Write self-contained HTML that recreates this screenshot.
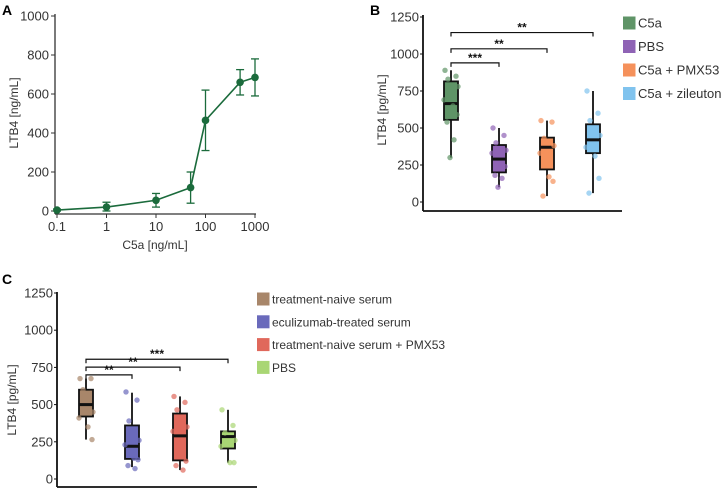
<!DOCTYPE html>
<html><head><meta charset="utf-8"><style>
body{margin:0;background:#fff;width:722px;height:489px;overflow:hidden}
svg{font-family:"Liberation Sans",Arial,sans-serif}
</style></head><body>
<svg id="s" width="722" height="489" xmlns="http://www.w3.org/2000/svg"></svg>
<script>
// Panel A data
const aDoses=[0.1,1,10,50,100,500,1000];
const aMeans=[5,20,55,120,465,660,685];
const aErr=[5,25,35,80,155,65,95];
const aXTicks=["0.1","1","10","100","1000"];
const aYTicks=[0,200,400,600,800,1000];
// Panel B data
const bGroups=["C5a","PBS","C5a + PMX53","C5a + zileuton"];
const bQ1=[555,200,220,330];
const bMed=[665,290,370,420];
const bQ3=[815,385,435,525];
const bLo=[300,100,40,60];
const bHi=[890,500,550,750];
const bPts=[[890,850,830,780,690,650,590,540,420,300],[500,450,400,350,330,250,240,180,160,100],[550,540,430,380,330,170,140,40],[750,600,550,450,370,310,160,60]];
const bYTicks=[0,250,500,750,1000,1250];
const bSig=[["***",0,1,940],["**",0,2,1035],["**",0,3,1145]];
// Panel C data
const cGroups=["treatment-naive serum","eculizumab-treated serum","treatment-naive serum + PMX53","PBS"];
const cQ1=[420,135,125,205];
const cMed=[500,220,290,285];
const cQ3=[600,360,440,320];
const cLo=[265,80,60,110];
const cHi=[675,580,555,465];
const cPts=[[675,675,600,450,410,350,265],[585,530,390,260,230,140,130,90,70],[555,515,465,350,320,250,120,90,60],[465,360,310,260,220,110,110]];
const cYTicks=[0,250,500,750,1000,1250];
const cSig=[["**",0,1,700],["**",0,2,752],["***",0,3,805]];

const svg=document.getElementById('s');const NS="http://www.w3.org/2000/svg";
function mk(tag,attrs,parent,text){const e=document.createElementNS(NS,tag);for(const k in attrs)e.setAttribute(k,attrs[k]);if(text!==undefined)e.textContent=text;(parent||svg).appendChild(e);return e;}
const jit=[-6,5,-3,7,-7,2,6,-4,3,-1];

// ---- Panel A
mk('text',{x:2,y:15,'font-size':14,'font-weight':'bold',},svg,'A');
const ax=v=>57+(Math.log10(v)+1)*49.5, ay=v=>211-v*0.195;
const gA=mk('g',{});
mk('line',{x1:55,y1:14,x2:55,y2:214,stroke:'#333','stroke-width':1.3},gA);
mk('line',{x1:55,y1:214,x2:256,y2:214,stroke:'#333','stroke-width':1.3},gA);
aYTicks.forEach(t=>{mk('line',{x1:51,x2:55,y1:ay(t),y2:ay(t),stroke:'#333'},gA);const e=mk('text',{x:49,y:ay(t)+4.5,'font-size':13,'text-anchor':'end',fill:'#333'},gA,t);});
aXTicks.forEach(t=>{const x=ax(parseFloat(t));mk('line',{x1:x,x2:x,y1:214,y2:218,stroke:'#333'},gA);const e=mk('text',{x:x,y:231,'font-size':13,'text-anchor':'middle',fill:'#333'},gA,t);});
mk('text',{x:155,y:249,'font-size':12,'text-anchor':'middle',fill:'#333',},svg,'C5a [ng/mL]');
mk('text',{x:18,y:113,'font-size':12,'text-anchor':'middle',fill:'#333',transform:'rotate(-90 18 113)',},svg,'LTB4 [ng/mL]');
const col='#1b6b3c';
mk('polyline',{points:aDoses.map((d,i)=>ax(d)+','+ay(aMeans[i])).join(' '),fill:'none',stroke:col,'stroke-width':1.6,},gA);
aDoses.forEach((d,i)=>{const x=ax(d);const lo=Math.max(0,aMeans[i]-aErr[i]),hi=aMeans[i]+aErr[i];
mk('line',{x1:x,x2:x,y1:ay(lo),y2:ay(hi),stroke:col,'stroke-width':1.3},gA);
mk('line',{x1:x-4,x2:x+4,y1:ay(lo),y2:ay(lo),stroke:col,'stroke-width':1.3},gA);
mk('line',{x1:x-4,x2:x+4,y1:ay(hi),y2:ay(hi),stroke:col,'stroke-width':1.3},gA);
const c=mk('circle',{cx:x,cy:ay(aMeans[i]),r:3.8,fill:col},gA);});

// ---- Box panel helper
function boxPanel(o){
 const g=mk('g',{});
 const y=v=>o.y0-v*o.sc;
 mk('line',{x1:o.ax,y1:o.yTop,x2:o.ax,y2:o.axB,stroke:'#111','stroke-width':1.8},g);
 mk('line',{x1:o.ax,y1:o.axB,x2:o.axR,y2:o.axB,stroke:'#111','stroke-width':1.8},g);
 o.ticks.forEach(t=>{mk('line',{x1:o.ax-3,x2:o.ax,y1:y(t),y2:y(t),stroke:'#111'},g);const e=mk('text',{x:o.ax-4,y:y(t)+4.5,'font-size':13,'text-anchor':'end',fill:'#333'},g,t);});
 o.groups.forEach((gn,i)=>{const x=o.cx[i],w=14;
  mk('line',{x1:x,x2:x,y1:y(o.lo[i]),y2:y(o.hi[i]),stroke:'#111','stroke-width':1.8},g);
  const r=mk('rect',{x:x-w/2,y:y(o.q3[i]),width:w,height:y(o.q1[i])-y(o.q3[i]),fill:o.cols[i],stroke:'#111','stroke-width':1.8},g);
  
  mk('line',{x1:x-w/2,x2:x+w/2,y1:y(o.med[i]),y2:y(o.med[i]),stroke:'#111','stroke-width':3},g);
  o.pts[i].forEach((p,j)=>{const c=mk('circle',{cx:x+jit[j%jit.length],cy:y(p),r:2.7,fill:o.cols[i],opacity:0.7},g);});
  const ly=o.legY+i*o.legDy;
  const s=mk('rect',{x:o.legX,y:ly-6.5,width:12.5,height:13,fill:o.cols[i]},g);
  const t=mk('text',{x:o.legX+15,y:ly+4.5,'font-size':o.legF,fill:'#333'},g,gn);
 });
 o.sig.forEach(sg=>{const x1=o.cx[sg[1]],x2=o.cx[sg[2]],yy=y(sg[3]);
  const p=mk('path',{d:`M${x1},${yy+4}V${yy}H${x2}V${yy+4}`,fill:'none',stroke:'#111','stroke-width':1.2},g);
  mk('text',{x:(x1+x2)/2,y:yy-1,'font-size':12,'font-weight':'bold','text-anchor':'middle',fill:'#111'},g,sg[0]);
 });
 mk('text',{x:o.tx,y:o.ty,'font-size':12,'text-anchor':'middle',fill:'#333',transform:`rotate(-90 ${o.tx} ${o.ty})`},g,'LTB4 [pg/mL]');
}
mk('text',{x:370,y:15,'font-size':14,'font-weight':'bold',},svg,'B');
boxPanel({name:'panel-b-chart',ax:423,y0:202,sc:185/1250,yTop:15,axB:211,axR:622,ticks:bYTicks,groups:bGroups,cx:[451,499,547,593],
 q1:bQ1,med:bMed,q3:bQ3,lo:bLo,hi:bHi,pts:bPts,cols:['#5f9467','#8f63b5','#f5915b','#80c3ee'],legX:623,legY:23,legDy:23.5,legF:13,sig:bSig,tx:386,ty:110});
mk('text',{x:2,y:284,'font-size':14,'font-weight':'bold',},svg,'C');
boxPanel({name:'panel-c-chart',ax:57,y0:479,sc:186/1250,yTop:292,axB:487,axR:257,ticks:cYTicks,groups:cGroups,cx:[86,132,180,228],
 q1:cQ1,med:cMed,q3:cQ3,lo:cLo,hi:cHi,pts:cPts,cols:['#a8866a','#6a6abb','#e0685b','#a9d674'],legX:257,legY:299,legDy:22.8,legF:12,sig:cSig,tx:16,ty:400});
</script>
</body></html>
